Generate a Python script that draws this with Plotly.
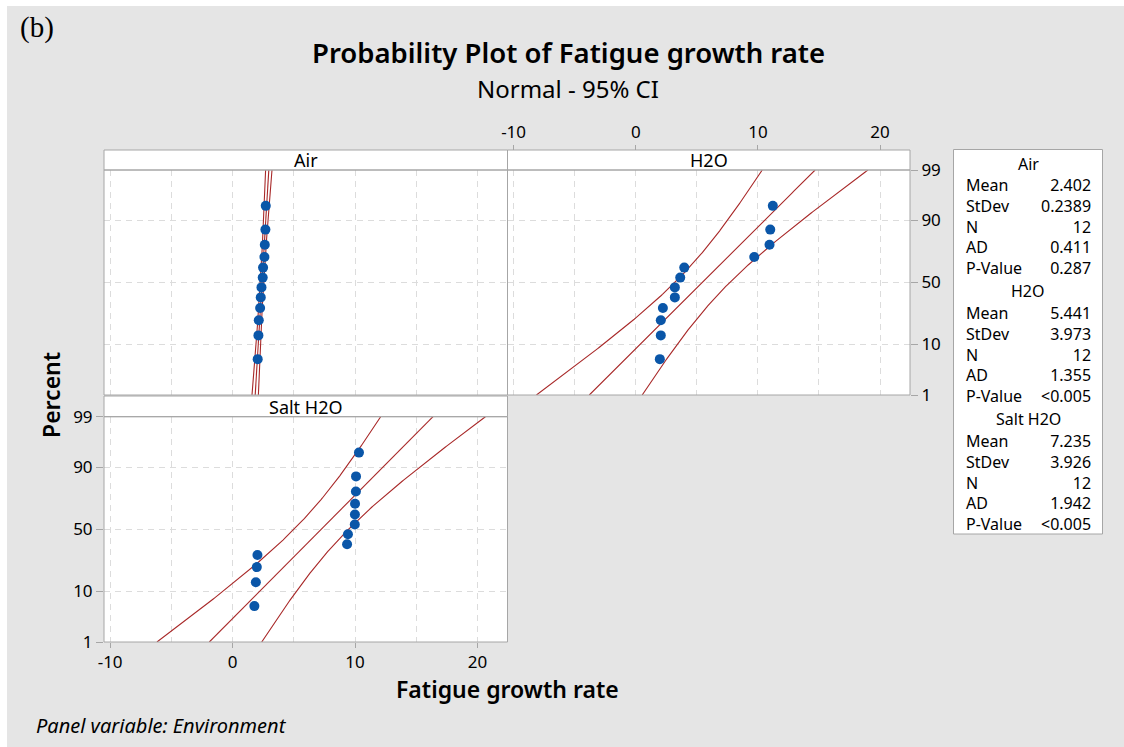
import plotly.graph_objects as go
from statistics import NormalDist
import numpy as np

# ---------------- data ----------------
panels = ["Air", "H2O", "Salt H2O"]
air_values = [2.05, 2.11, 2.14, 2.25, 2.30, 2.36, 2.46, 2.49, 2.60, 2.63, 2.68, 2.71]
h2o_values = [1.97, 2.05, 2.05, 2.22, 3.20, 3.20, 3.64, 3.97, 9.70, 10.95, 11.01, 11.22]
salt_values = [1.78, 1.90, 1.98, 2.03, 9.35, 9.42, 9.98, 9.99, 10.00, 10.07, 10.08, 10.32]
# median-rank plotting positions (percent) for N = 12
plot_percent = [5.65, 13.71, 21.77, 29.84, 37.90, 45.97, 54.03, 62.10, 70.16, 78.23, 86.29, 94.35]

means = [2.402, 5.441, 7.235]
stdevs = [0.2389, 3.973, 3.926]
ns = [12, 12, 12]
mean_txt = ["2.402", "5.441", "7.235"]
stdev_txt = ["0.2389", "3.973", "3.926"]
n_txt = ["12", "12", "12"]
ad_txt = ["0.411", "1.355", "1.942"]
p_txt = ["0.287", "<0.005", "<0.005"]

y_tick_percent = [1, 10, 50, 90, 99]
y_tick_text = ["1", "10", "50", "90", "99"]
x_tick_vals = [-10, 0, 10, 20]
x_minor_vals = [-5, 5, 15]

# ---------------- helpers ----------------
W, H = 1124, 747
nd = NormalDist()
def px(x):
    return x / W
def py(y):
    return 1 - y / H
def zq(p):
    return nd.inv_cdf(p / 100.0)

FONT = "Noto Sans"
LINE_RED = "#a82828"
DOT_BLUE = "#0a56a8"
GRID = "#dcdcdc"
BORDER = "#a6a6a6"
BG = "#e5e5e5"

y_lo, y_hi = zq(1), zq(99)
x_range = [-10.5, 22.45]

fig = go.Figure()

data_sets = [air_values, h2o_values, salt_values]
axes = [("x", "y"), ("x2", "y2"), ("x3", "y3")]
zgrid = np.linspace(y_lo, y_hi, 200)
for i, vals in enumerate(data_sets):
    xa, ya = axes[i]
    mu, s, n = means[i], stdevs[i], ns[i]
    fit = mu + s * zgrid
    hw = 1.96 * s * np.sqrt((1 + zgrid ** 2 / 2) / n)
    for xs in (fit - hw, fit, fit + hw):
        fig.add_trace(go.Scatter(x=xs, y=zgrid, mode="lines", xaxis=xa, yaxis=ya,
                                 line=dict(color=LINE_RED, width=1.1),
                                 showlegend=False, hoverinfo="skip"))
    fig.add_trace(go.Scatter(x=vals, y=[zq(p) for p in plot_percent], mode="markers",
                             xaxis=xa, yaxis=ya,
                             marker=dict(color=DOT_BLUE, size=10, line=dict(width=0)),
                             showlegend=False))

# panel geometry (screen pixels)
xL, xM, xR = 104, 507.5, 910
top_head, top_plot_t, top_plot_b = 150, 170, 395
bot_head, bot_plot_t, bot_plot_b = 396, 416.7, 642

ytickvals = [zq(p) for p in y_tick_percent]
tickfont = dict(family=FONT, size=17, color="black")

def xaxis_common(**kw):
    d = dict(range=x_range, tickvals=x_tick_vals, ticktext=[str(v) for v in x_tick_vals],
             showgrid=True, gridcolor=GRID, griddash="6px,5px", gridwidth=1,
             minor=dict(tickvals=x_minor_vals, showgrid=True, gridcolor=GRID,
                        griddash="6px,5px", gridwidth=1),
             zeroline=False, showline=False, tickfont=tickfont, fixedrange=True,
             automargin=False)
    d.update(kw)
    return d

def yaxis_common(**kw):
    d = dict(range=[y_lo, y_hi], tickvals=ytickvals, ticktext=y_tick_text,
             showgrid=True, gridcolor=GRID, griddash="6px,5px", gridwidth=1,
             zeroline=False, showline=False, tickfont=tickfont, fixedrange=True,
             automargin=False)
    d.update(kw)
    return d

fig.update_layout(
    width=W, height=H, autosize=False,
    margin=dict(l=0, r=0, t=0, b=0, pad=0, autoexpand=False),
    paper_bgcolor=BG, plot_bgcolor="white",
    showlegend=False,
    font=dict(family=FONT, color="black"),
    xaxis=xaxis_common(domain=[px(xL), px(xM)], anchor="y", showticklabels=False, ticks=""),
    yaxis=yaxis_common(domain=[py(top_plot_b), py(top_plot_t)], anchor="x",
                       showticklabels=False, ticks=""),
    xaxis2=xaxis_common(domain=[px(xM), px(xR)], anchor="free", position=py(top_head),
                        side="top", ticks="outside", ticklen=5, tickcolor=BORDER),
    yaxis2=yaxis_common(domain=[py(top_plot_b), py(top_plot_t)], anchor="x2", side="right",
                        ticks="outside", ticklen=7, tickcolor=BORDER),
    xaxis3=xaxis_common(domain=[px(xL), px(xM)], anchor="y3", side="bottom",
                        ticks="outside", ticklen=5, tickcolor=BORDER),
    yaxis3=yaxis_common(domain=[py(bot_plot_b), py(bot_plot_t)], anchor="x3", side="left",
                        ticks="outside", ticklen=7, tickcolor=BORDER),
)

shapes = []
def rect(x0, y0, x1, y1, fill=None, color=BORDER, width=1, layer="above"):
    shapes.append(dict(type="rect", xref="paper", yref="paper",
                       x0=px(x0), x1=px(x1), y0=py(y1), y1=py(y0),
                       line=dict(color=color, width=width),
                       fillcolor=fill if fill else "rgba(0,0,0,0)", layer=layer))

# header strips
rect(xL, top_head, xM, top_plot_t, fill="white")
rect(xM, top_head, xR, top_plot_t, fill="white")
rect(xL, bot_head, xM, bot_plot_t, fill="white")
# plot borders
rect(xL, top_plot_t, xM, top_plot_b)
rect(xM, top_plot_t, xR, top_plot_b)
rect(xL, bot_plot_t, xM, bot_plot_b)
# stats box
rect(953.5, 149.5, 1102.5, 534, fill="white")
# white edge strips of the image (top and left)
shapes.append(dict(type="rect", xref="paper", yref="paper", x0=0, x1=1, y0=py(6), y1=1,
                   fillcolor="white", line=dict(width=0), layer="above"))
shapes.append(dict(type="rect", xref="paper", yref="paper", x0=0, x1=px(7), y0=0, y1=1,
                   fillcolor="white", line=dict(width=0), layer="above"))
fig.update_layout(shapes=shapes)

ann = []
def text(x, y, s, size=15, xanchor="center", yanchor="middle", family=FONT, textangle=0,
         weight=None, style=None, align="center"):
    f = dict(family=family, size=size, color="black")
    if weight:
        f["weight"] = weight
    if style:
        f["style"] = style
    ann.append(dict(x=px(x), y=py(y), xref="paper", yref="paper", text=s, showarrow=False,
                    xanchor=xanchor, yanchor=yanchor, font=f, textangle=textangle,
                    align=align, borderpad=0))

# panel headers
text((xL + xM) / 2, 160, panels[0], size=18)
text((xM + xR) / 2, 160, panels[1], size=18)
text((xL + xM) / 2, 406.5, panels[2], size=18)

# titles
text(37, 27, "(b)", size=29, family="Liberation Serif")
text(568, 53, "Probability Plot of Fatigue growth rate", size=27.5, weight=600)
text(568, 88, "Normal - 95% CI", size=24)
text(51, 395, "Percent", size=23, textangle=-90, weight=600)
text(507, 689, "Fatigue growth rate", size=23, weight=600)
text(35, 725, "Panel variable: Environment", size=20, xanchor="left", style="italic")

# stats box
header_y = [164.5, 290.7, 419.3]
first_row_y = [183.7, 311.5, 439.0]
row_labels = ["Mean", "StDev", "N", "AD", "P-Value"]
SF = 16
for i, g in enumerate(panels):
    text(1028, header_y[i], g, size=SF)
    vals = [mean_txt[i], stdev_txt[i], n_txt[i], ad_txt[i], p_txt[i]]
    block_top = first_row_y[i] - 0.65 * SF
    text(965, block_top, "<br>".join(row_labels), size=SF, xanchor="left", yanchor="top",
         align="left")
    text(1092, block_top, "<br>".join(vals), size=SF, xanchor="right", yanchor="top",
         align="right")

fig.update_layout(annotations=ann)
fig.write_html(
    "out.html",
    config={"displayModeBar": False},
    post_script="document.body.style.margin='0';document.body.style.overflow='hidden';",
)
